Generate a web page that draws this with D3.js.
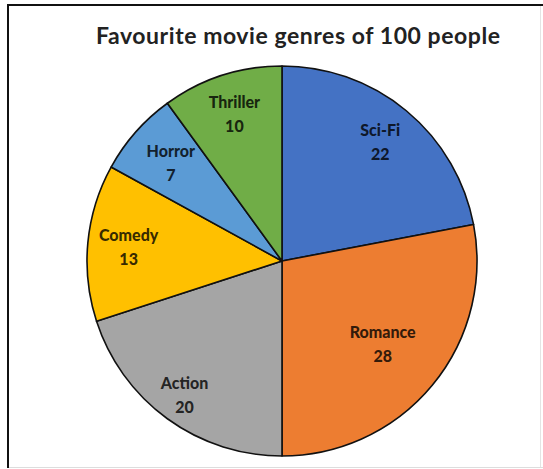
<!DOCTYPE html>
<html>
<head>
<meta charset="utf-8">
<script src="https://cdn.jsdelivr.net/npm/d3@7"></script>
<style>
  html, body { margin: 0; padding: 0; background: #fff; }
  svg { display: block; }
</style>
</head>
<body>
<svg id="chart" width="543" height="469"></svg>
<script>
// ---- data ----
const categories = ["Sci-Fi", "Romance", "Action", "Comedy", "Horror", "Thriller"];
const values = [22, 28, 20, 13, 7, 10];
const colors = ["#4472C4", "#ED7D31", "#A5A5A5", "#FFC000", "#5B9BD5", "#70AD47"];
const labelRadiusFactor = [0.79, 0.67, 0.85, 0.79, 0.76, 0.79];
const title = "Favourite movie genres of 100 people";

const W = 543, H = 469;
const cx = 282, cy = 261, R = 195;
const svg = d3.select("#chart");

// frame
svg.append("rect").attr("x", 0).attr("y", 0).attr("width", W).attr("height", H).attr("fill", "#fff");
svg.append("line").attr("x1", 7).attr("x2", W).attr("y1", 5).attr("y2", 5).attr("stroke", "#111").attr("stroke-width", 2);
svg.append("line").attr("x1", 8).attr("x2", 8).attr("y1", 4).attr("y2", 468).attr("stroke", "#111").attr("stroke-width", 2);
svg.append("line").attr("x1", 9).attr("x2", W).attr("y1", 467.5).attr("y2", 467.5).attr("stroke", "#ddd").attr("stroke-width", 1);
svg.append("line").attr("x1", 540.5).attr("x2", 540.5).attr("y1", 6).attr("y2", 467).attr("stroke", "#e4e4e4").attr("stroke-width", 1);

// title
svg.append("text")
  .attr("x", 298).attr("y", 44)
  .attr("text-anchor", "middle")
  .attr("font-family", "Lato, 'Open Sans', sans-serif")
  .attr("font-weight", "bold")
  .attr("font-size", 23)
  .attr("textLength", 404)
  .attr("lengthAdjust", "spacing")
  .attr("fill", "#222")
  .text(title);

const pie = d3.pie().sort(null).value(d => d)(values);
const arc = d3.arc().innerRadius(0).outerRadius(R);

const g = svg.append("g").attr("transform", `translate(${cx},${cy})`);
g.selectAll("path.slice").data(pie).join("path")
  .attr("class", "slice")
  .attr("d", arc)
  .attr("fill", (d, i) => colors[i])
  .attr("stroke", "#111")
  .attr("stroke-width", 1.6)
  .attr("stroke-linejoin", "round");

const labels = g.selectAll("g.lbl").data(pie).join("g")
  .attr("class", "lbl")
  .attr("transform", (d, i) => {
    const r = R * labelRadiusFactor[i];
    const a = (d.startAngle + d.endAngle) / 2;
    return `translate(${r * Math.sin(a)},${-r * Math.cos(a)})`;
  });

labels.append("text")
  .attr("text-anchor", "middle")
  .attr("y", -6)
  .attr("font-family", "Lato, 'Open Sans', sans-serif")
  .attr("font-weight", "900")
  .attr("font-size", 16)
  .attr("fill", "#000").attr("fill-opacity", 0.8)
  .text((d, i) => categories[i]);

labels.append("text")
  .attr("text-anchor", "middle")
  .attr("y", 18)
  .attr("font-family", "Lato, 'Open Sans', sans-serif")
  .attr("font-weight", "900")
  .attr("font-size", 16)
  .attr("fill", "#000").attr("fill-opacity", 0.8)
  .text(d => d.data);
</script>
</body>
</html>
